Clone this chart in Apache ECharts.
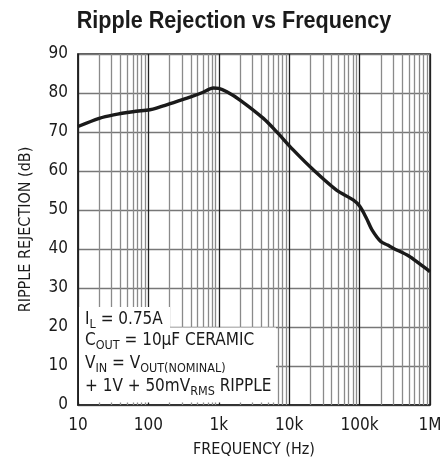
<!DOCTYPE html>
<html>
<head>
<meta charset="utf-8">
<script src="https://cdn.jsdelivr.net/npm/echarts@6/dist/echarts.min.js"></script>
<style>
html,body{margin:0;padding:0;background:#fff;}
#chart{width:443px;height:459px;}
</style>
</head>
<body>
<div id="chart"></div>
<script>
const titleText = 'Ripple Rejection vs Frequency';
const xAxisName = 'FREQUENCY (Hz)';
const yAxisName = 'RIPPLE REJECTION (dB)';
const freqHz = [10, 20, 32, 60, 105, 130, 250, 400, 600, 835, 1000, 1300, 2000, 4300, 6600, 11400, 22000, 47000, 81000, 100000, 125000, 150000, 200000, 250000, 300000, 500000, 700000, 1000000];
const rejectionDb = [71.4, 73.5, 74.4, 75.2, 75.7, 76.1, 77.8, 79.0, 80.2, 81.3, 81.2, 80.3, 78.2, 73.5, 70.1, 65.4, 60.3, 55.1, 52.6, 51.0, 47.9, 44.9, 41.9, 41.0, 40.2, 38.2, 36.3, 34.2];
const xTickLabels = {10: '10', 100: '100', 1000: '1k', 10000: '10k', 100000: '100k', 1000000: '1M'};
const yMin = 0, yMax = 90, yStep = 10;
const decades = [10, 100, 1000, 10000, 100000];
const minorMultipliers = [2, 3, 4, 5, 6, 7, 8, 9];

const FONT = '"DejaVu Sans Condensed", "Liberation Sans Narrow", Arial, sans-serif';

const minorLines = [];
decades.forEach(d => minorMultipliers.forEach(m => minorLines.push({xAxis: d * m})));

const chart = echarts.init(document.getElementById('chart'), null, {renderer: 'canvas'});

const subStyle = {fontSize: 12.5, fontFamily: FONT, color: '#1a1a1a', lineHeight: 23, verticalAlign: 'bottom'};
const mainStyle = {fontSize: 17, fontFamily: FONT, color: '#1a1a1a', lineHeight: 19, verticalAlign: 'middle'};

function noteText(y, text) {
  return {
    type: 'text', left: 85, top: y, z: 101,
    style: {
      text: text,
      font: '17px ' + FONT,
      fill: '#1a1a1a',
      rich: {n: mainStyle, s: subStyle}
    }
  };
}

chart.setOption({
  animation: false,
  backgroundColor: '#fff',
  grid: {left: 78, right: 13, top: 54, bottom: 54, outerBoundsMode: 'none', containLabel: false,
    show: true, borderColor: '#222', borderWidth: 1.5, backgroundColor: 'transparent'},
  xAxis: {
    type: 'log', logBase: 10, min: 10, max: 1000000,
    name: xAxisName, nameLocation: 'middle', nameGap: 37,
    nameTextStyle: {fontFamily: FONT, fontSize: 16, color: '#1a1a1a'},
    axisLine: {show: true, lineStyle: {color: '#222', width: 1.5}},
    axisTick: {show: false},
    axisLabel: {fontFamily: FONT, fontSize: 17, color: '#1a1a1a', margin: 12,
      formatter: v => xTickLabels[Math.round(v)] || ''},
    splitLine: {show: true, lineStyle: {color: '#222', width: 1.3}},
    minorTick: {show: false}, minorSplitLine: {show: false}
  },
  yAxis: {
    type: 'value', min: yMin, max: yMax, interval: yStep,
    name: yAxisName, nameLocation: 'middle', nameGap: 44, nameRotate: 90,
    nameTextStyle: {fontFamily: FONT, fontSize: 16, color: '#1a1a1a'},
    axisLine: {show: true, lineStyle: {color: '#222', width: 1.5}},
    axisTick: {show: false},
    axisLabel: {fontFamily: FONT, fontSize: 17, color: '#1a1a1a', margin: 10},
    splitLine: {show: true, lineStyle: {color: '#777', width: 1.3}}
  },
  series: [
    {
      type: 'line', data: [], z: 1, silent: true,
      markLine: {
        silent: true, symbol: 'none', animation: false,
        label: {show: false},
        lineStyle: {type: 'solid', color: '#8a8a8a', width: 1.3},
        data: minorLines
      }
    },
    {
      type: 'line', z: 5,
      data: freqHz.map((f, i) => [f, rejectionDb[i]]),
      smooth: 0.3, showSymbol: false,
      lineStyle: {color: '#1a1a1a', width: 3.4}
    }
  ],
  graphic: [
    {
      type: 'text', x: 234, y: 21, scaleX: 0.9, z: 101,
      style: {
        text: titleText, fill: '#1a1a1a',
        font: 'bold 24px "Liberation Sans", Arial, sans-serif',
        align: 'center', verticalAlign: 'middle'
      }
    },
    {type: 'rect', z: 100, shape: {x: 79, y: 307, width: 91, height: 22}, style: {fill: '#fff'}},
    {type: 'rect', z: 100, shape: {x: 79, y: 327.5, width: 197, height: 75}, style: {fill: '#fff'}},
    noteText(311, '{n|I}{s|L}{n| = 0.75A}'),
    noteText(332, '{n|C}{s|OUT}{n| = 10µF CERAMIC}'),
    noteText(355, '{n|V}{s|IN}{n| = V}{s|OUT(NOMINAL)}'),
    noteText(378, '{n|+ 1V + 50mV}{s|RMS}{n| RIPPLE}')
  ]
});
</script>
</body>
</html>
